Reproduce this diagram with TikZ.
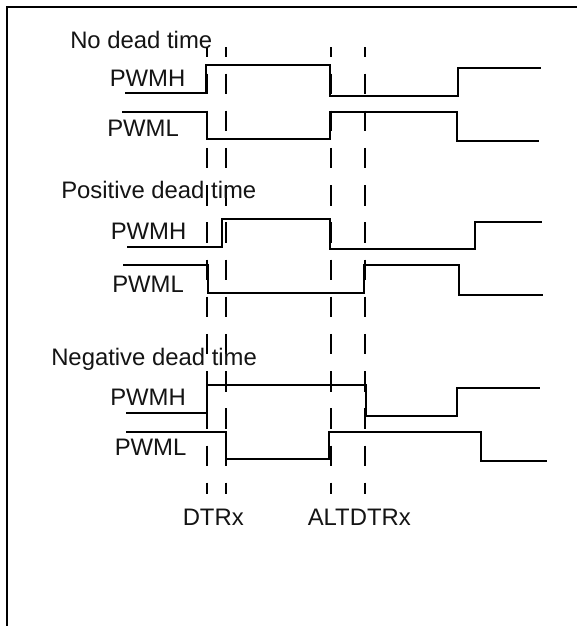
\documentclass[tikz,border=0pt]{standalone}
\usepackage{fontspec}
\setmainfont{Liberation Sans}
\begin{document}
\begin{tikzpicture}[x=0.75pt,y=-0.75pt,
  lbl/.style={anchor=base west,inner sep=0pt,font=\fontsize{17.9pt}{20pt}\selectfont,text=black!92},
  wave/.style={line width=1.1pt,black,line cap=butt,line join=miter},
  frameline/.style={line width=1.3pt,black},
  guide/.style={line width=1.1pt,black,dash pattern=on 15.4pt off 12.5pt,dash phase=8pt}]
\useasboundingbox (0,0) rectangle (577,626);
\fill[white] (0,0) rectangle (577,626);
% frame
\draw[frameline] (7,626) -- (7,7) -- (577,7);
% guides
\foreach \x/\n in {207/a,226/b,331/c,365/d}{
  \coordinate (\n top) at (\x,47);
  \coordinate (\n bot) at (\x,494);
  \draw[guide] (\n top) -- (\n bot);
}
% no dead time
\draw[wave] (125,93) -- (206,93) -- (206,65) -- (330,65) -- (330,96) -- (458,96) -- (458,68) -- (541,68);
\draw[wave] (122,112) -- (207,112) -- (207,139) -- (330,139) -- (330,112) -- (457,112) -- (457,141) -- (539,141);
% positive dead time
\draw[wave] (127,247) -- (222,247) -- (222,219) -- (330,219) -- (330,249) -- (475,249) -- (475,222) -- (542,222);
\draw[wave] (123,265) -- (208,265) -- (208,293) -- (364,293) -- (364,265) -- (459,265) -- (459,295) -- (543,295);
% negative dead time
\draw[wave] (126,413) -- (207,413) -- (207,385) -- (366,385) -- (366,416) -- (457,416) -- (457,388) -- (540,388);
\draw[wave] (126,432) -- (226,432) -- (226,459) -- (329,459) -- (329,432) -- (481,432) -- (481,461) -- (547,461);
% labels
\node[lbl] (t1) at (70,48) {No dead time};
\node[lbl] (h1) at (109.5,86) {PWMH};
\node[lbl] (l1) at (107,136.7) {PWML};
\node[lbl] (t2) at (61,198) {Positive dead time};
\node[lbl] (h2) at (110.5,239.5) {PWMH};
\node[lbl] (l2) at (112,292) {PWML};
\node[lbl] (t3) at (51,365.7) {Negative dead time};
\node[lbl] (h3) at (110,405.7) {PWMH};
\node[lbl] (l3) at (114.5,455.7) {PWML};
\node[lbl] (d1) at (182.5,525) {DTRx};
\node[lbl] (d2) at (307.5,525) {ALTDTRx};
\end{tikzpicture}
\end{document}
